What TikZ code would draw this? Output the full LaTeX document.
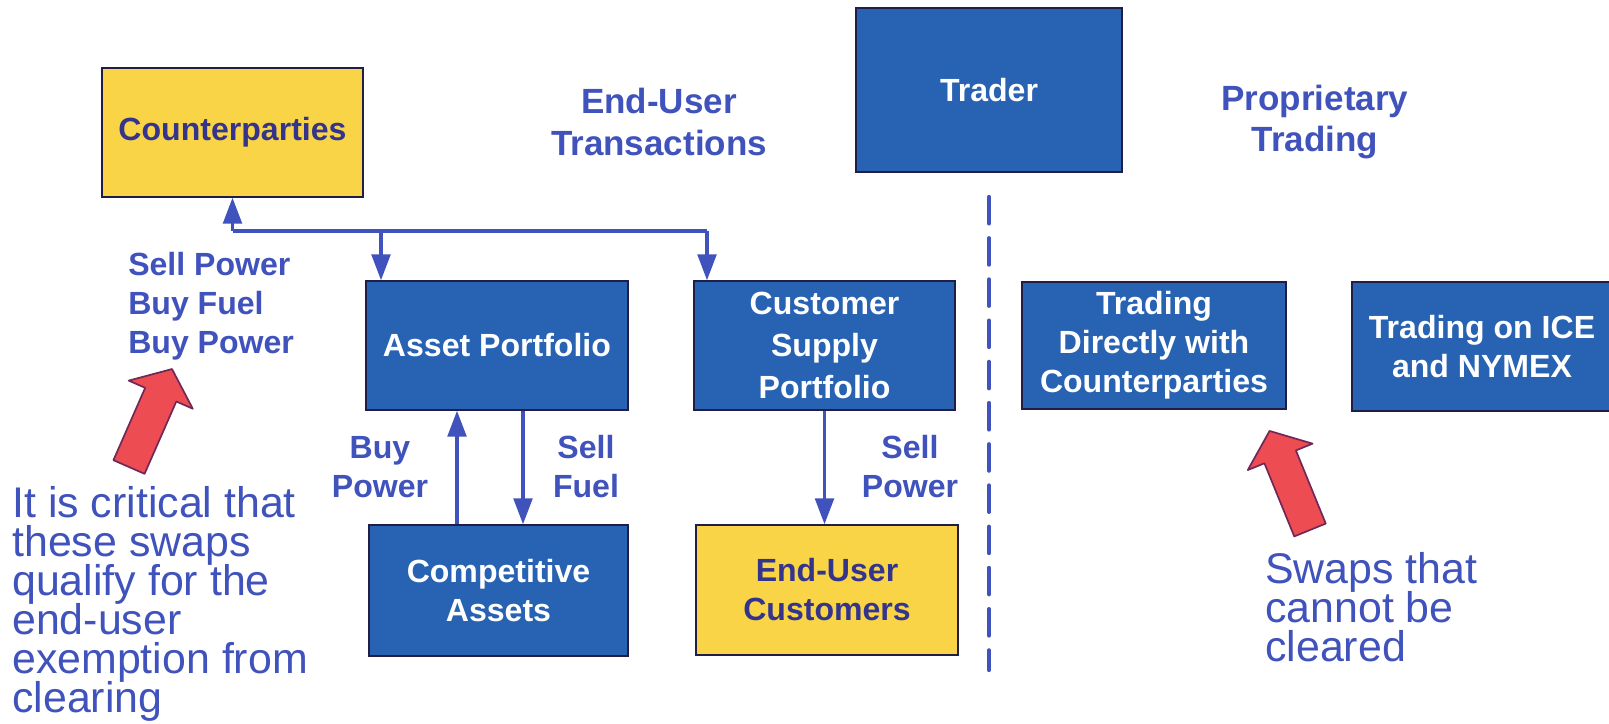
\documentclass[tikz,border=0pt]{standalone}
\usepackage{fontspec}
\setmainfont{Liberation Sans}
\usetikzlibrary{arrows.meta,calc}
\definecolor{boxblue}{RGB}{40,98,178}
\definecolor{boxyellow}{RGB}{248,212,70}
\definecolor{inkblue}{RGB}{64,82,188}
\definecolor{navy}{RGB}{52,52,140}
\definecolor{edge}{RGB}{32,30,70}
\definecolor{swapred}{RGB}{236,76,82}
\definecolor{swapedge}{RGB}{112,40,88}
\def\swaparrow(#1)(#2){\begin{scope}[shift={(#1)},rotate=#2]
	\draw[redarrow] (0,-17) -- (79,-17) -- (79,-35) -- (107,0) -- (79,35) -- (79,17) -- (0,17) -- cycle;
\end{scope}}

\begin{document}
\begin{tikzpicture}[x=0.025cm, y=-0.025cm,
		box/.style={draw=edge, line width=0.8pt, inner sep=0pt, align=center, font=\bfseries\fontsize{22.8}{27.7}\selectfont},
		bluebox/.style={box, fill=boxblue, text=white},
		yellowbox/.style={box, fill=boxyellow, text=navy},
		flowtext/.style={text=inkblue, align=center, inner sep=0pt, font=\bfseries\fontsize{22.8}{27.7}\selectfont},
		note/.style={text=inkblue, align=left, inner sep=0pt, anchor=north west, font={\fontsize{30.5}{27.7}\selectfont\setlength\lineskiplimit{-50pt}}},
		pipe/.style={draw=inkblue, line width=2.8pt},
		flow/.style={pipe, -{Triangle[length=0.65cm, width=0.46cm]}},
		redarrow/.style={fill=swapred, draw=swapedge, line width=1.2pt, line join=round}]
			%%%%% START %%%%%
			
			\fill[white] (0,0) rectangle (1609,723);
			\useasboundingbox (0,0) rectangle (1609,723);
			
			\node[yellowbox, minimum width=6.525cm, minimum height=3.225cm] (cp) at (232.5,132.5) {Counterparties};
			\node[bluebox, minimum width=6.65cm, minimum height=4.1cm] (trader) at (989,90) {Trader};
			\node[flowtext, font=\bfseries\fontsize{24.9}{29.2}\selectfont] (eut) at (659,122) {End-User\\Transactions};
			\node[flowtext, font=\bfseries\fontsize{24.9}{29.2}\selectfont] (prop) at (1315,122) {Proprietary\\Trading};
			
			\node[bluebox, minimum width=6.55cm, minimum height=3.225cm] (ap) at (497,345.5) {Asset Portfolio};
			\node[bluebox, minimum width=6.525cm, minimum height=3.225cm, font=\bfseries\fontsize{22.8}{29.8}\selectfont] (csp) at (824.5,345.5) {Customer\\Supply\\Portfolio};
			\node[bluebox, minimum width=6.475cm, minimum height=3.275cm] (ca) at (498.5,590.5) {Competitive\\Assets};
			\node[yellowbox, minimum width=6.55cm, minimum height=3.25cm] (euc) at (827,590) {End-User\\Customers};
			
			\node[bluebox, minimum width=6.6cm, minimum height=3.175cm] (tdc) at (1154,345.5) {Trading\\Directly with\\Counterparties};
			\node[bluebox, minimum width=6.5cm, minimum height=3.225cm] (ice) at (1482,346.5) {Trading on ICE\\and NYMEX};
			
			\node[flowtext, align=left, anchor=west] (legs) at (128,306) {Sell Power\\Buy Fuel\\Buy Power};
			\node[flowtext] (bptxt) at (380,467) {Buy\\Power};
			\node[flowtext] (sftxt) at (586,467) {Sell\\Fuel};
			\node[flowtext] (sptxt) at (910,467) {Sell\\Power};
			
			\node[note] (critical) at (12,486) {It is critical that\\these swaps\\qualify for the\\end-user\\exemption from\\clearing};
			\node[note] (uncleared) at (1265,552) {Swaps that\\cannot be\\cleared};
			
			\coordinate (busl) at (232.5,231);
			\coordinate (busr) at (707,231);
			\coordinate (tap) at (381,231);
			\draw[pipe] (busl) -- (busr);
			\draw[flow] (busl) -- (cp.south);
			\draw[flow] (tap) -- (tap |- ap.north);
			\draw[flow] (busr) -- (busr |- csp.north);
			
			\coordinate (up) at (457,0);
			\coordinate (down) at (523,0);
			\draw[flow] (up |- ca.north) -- (up |- ap.south);
			\draw[flow] (down |- ap.south) -- (down |- ca.north);
			\draw[flow] (csp.south) -- (csp.south |- euc.north);
			
			\coordinate (divtop) at (989,197);
			\coordinate (divbot) at (989,670);
			\draw[pipe, line width=3pt, line cap=round, dash pattern=on 0.66cm off 0.37cm] (divtop) -- (divbot);
			
			\swaparrow(129,467)(66.3)
			\swaparrow(1310,530)(112.2)
			
			%%%%% END %%%%%
		\end{tikzpicture}
\end{document}
